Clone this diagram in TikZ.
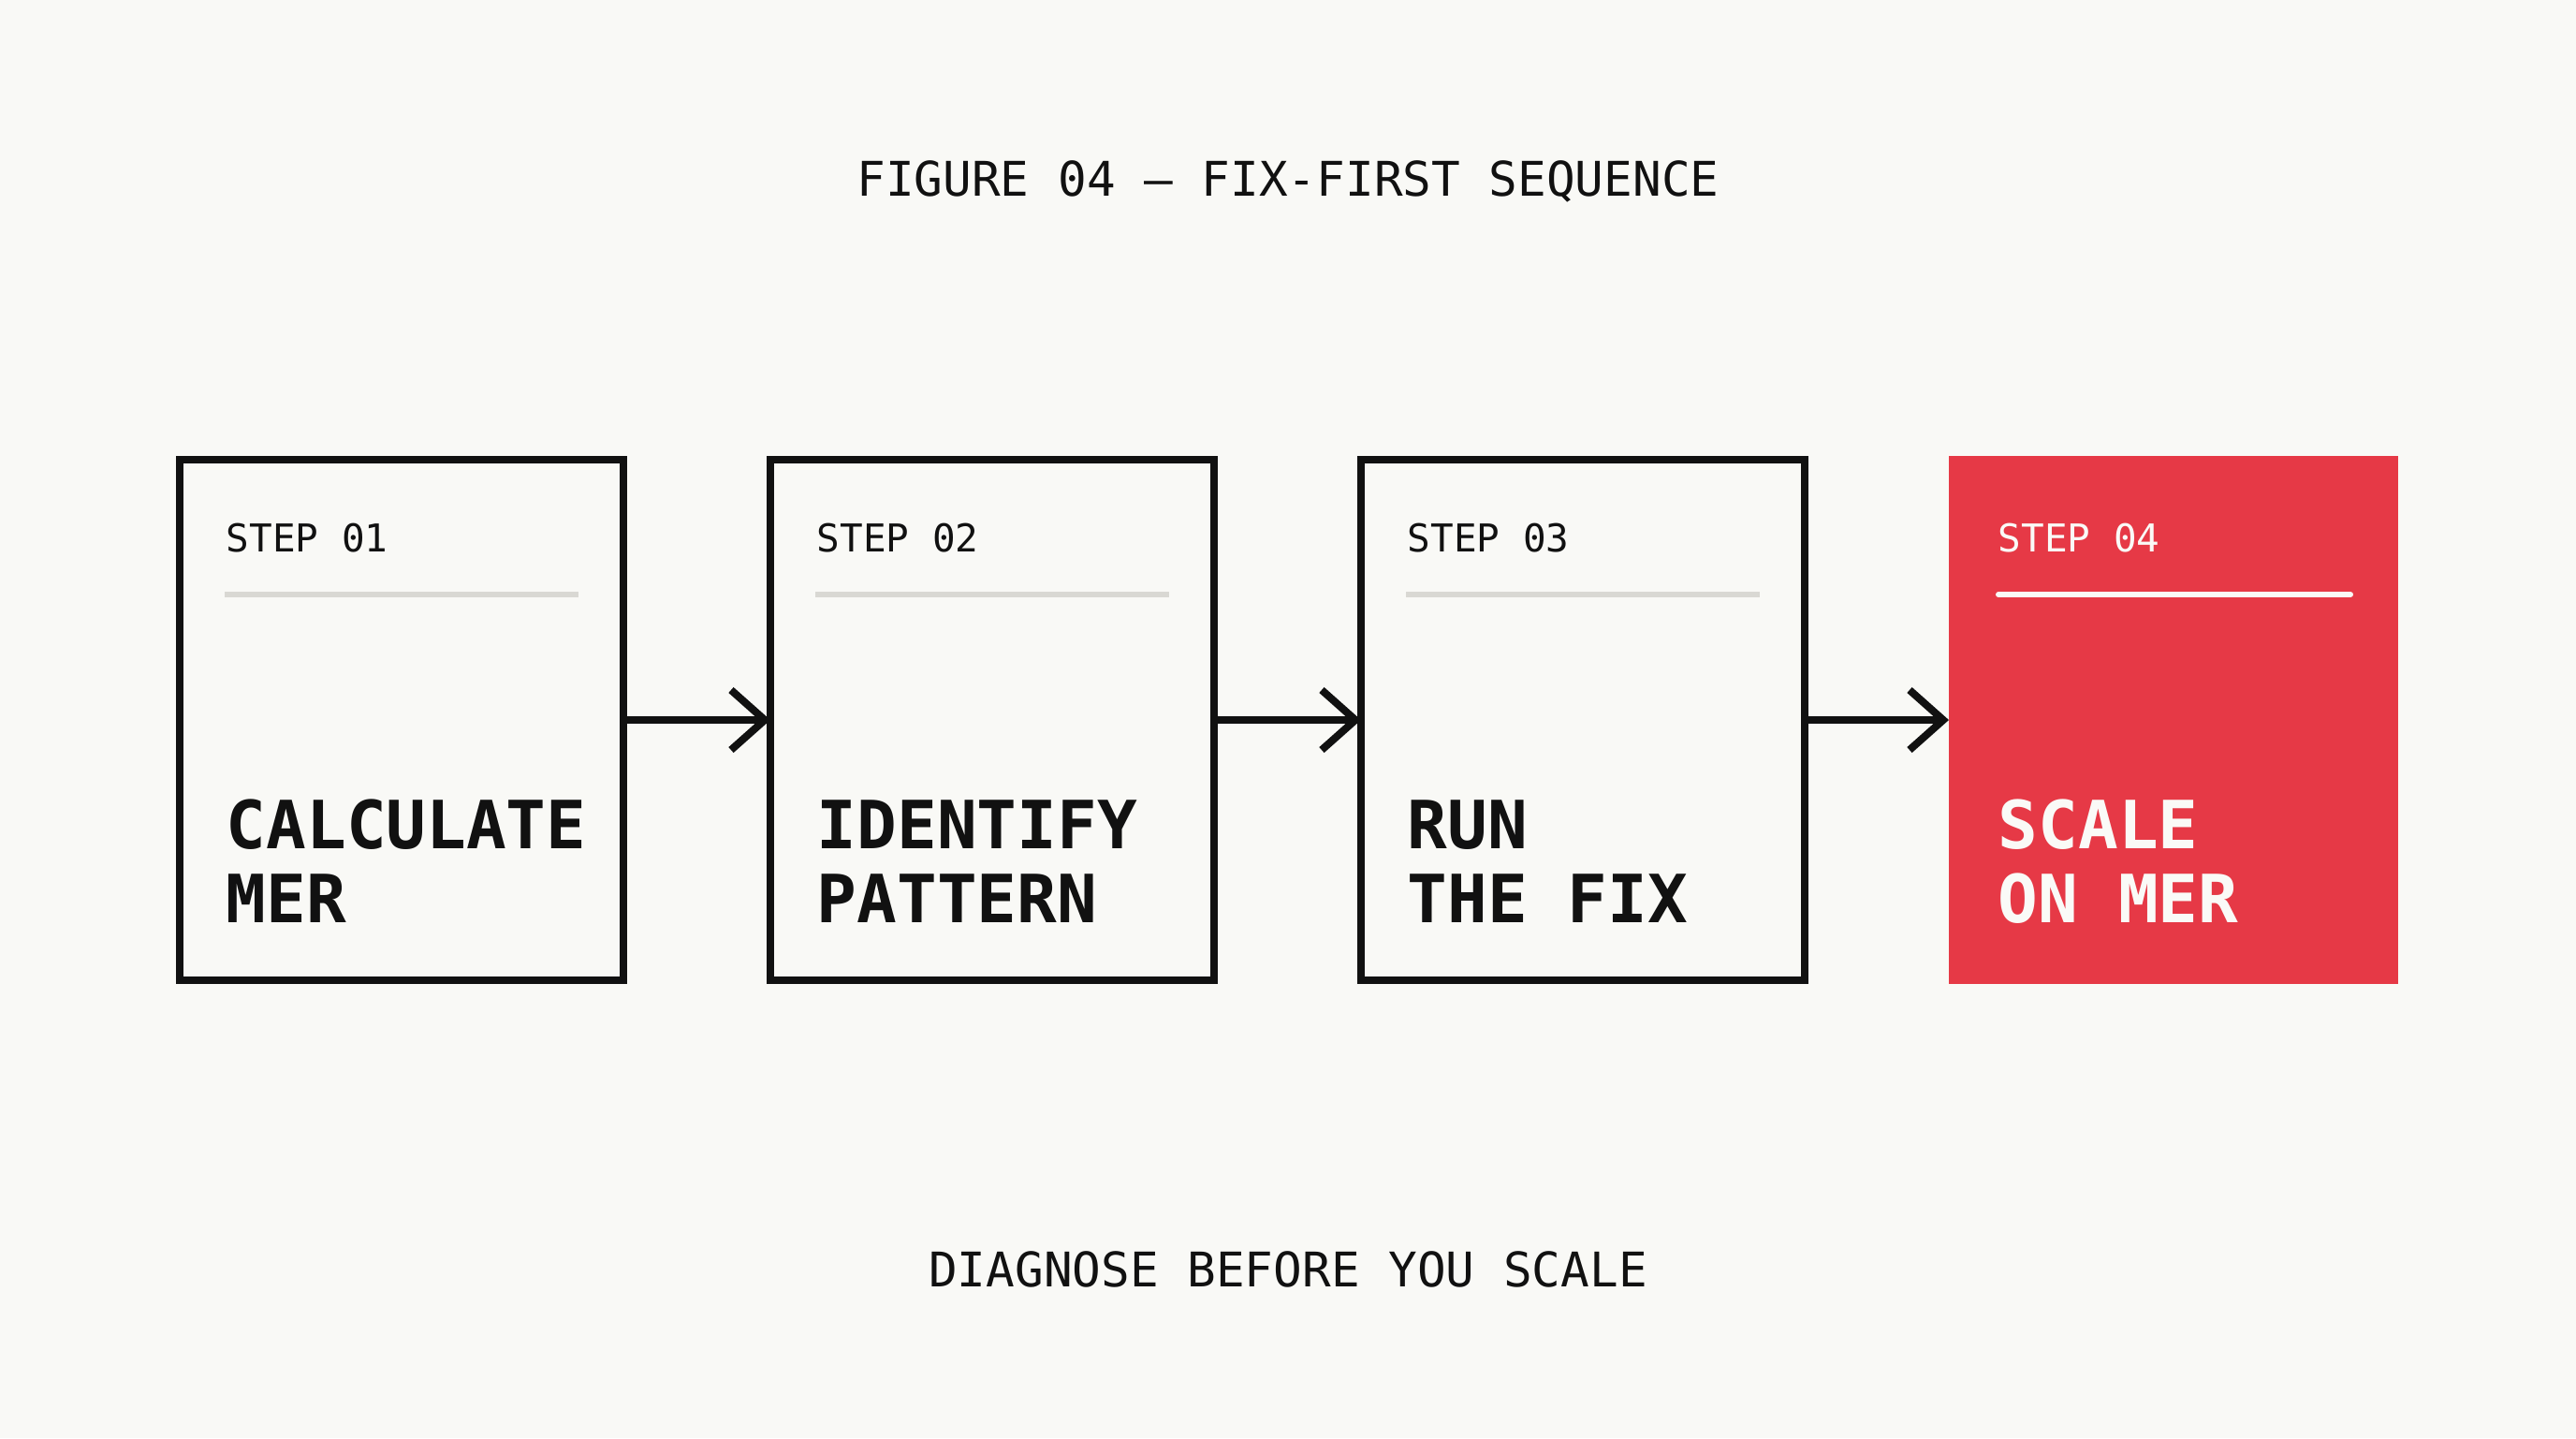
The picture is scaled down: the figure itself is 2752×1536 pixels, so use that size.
\documentclass[tikz,border=0pt]{standalone}
\usepackage{fontspec}
\setmonofont{DejaVu Sans Mono}
\usetikzlibrary{arrows.meta}
\definecolor{bg}{HTML}{F9F9F6}
\definecolor{ink}{HTML}{111111}
\definecolor{rulegrey}{HTML}{D9D8D3}
\definecolor{accent}{HTML}{E63946}
\definecolor{paper}{HTML}{FAFAF7}
\begin{document}
\begin{tikzpicture}[x=0.25pt,y=-0.25pt,
  stepbox/.style={draw=ink, line width=2pt, minimum width=118.5pt, minimum height=139pt, inner sep=0pt, outer sep=0pt, fill=bg},
  redbox/.style={fill=accent, minimum width=120pt, minimum height=141pt, inner sep=0pt, outer sep=0pt},
  steplabel/.style={font=\ttfamily\fontsize{10.25}{12}\selectfont, anchor=base west, inner sep=0pt, text=ink},
  bigtext/.style={font=\ttfamily\bfseries\fontsize{17.75}{19.75}\selectfont, anchor=base west, align=left, inner sep=0pt, text=ink},
  captext/.style={font=\ttfamily\fontsize{12.75}{15}\selectfont, text=ink, anchor=base, inner sep=0pt},
  rulegrey line/.style={draw=rulegrey, line width=1.5pt},
  rulewhite line/.style={draw=paper, line width=1.5pt, line cap=round},
  conn/.style={draw=ink, line width=2pt, -{Straight Barb[length=9pt,width=16pt]}}
]
\fill[bg] (0,0) rectangle (2752,1536);
\useasboundingbox (0,0) rectangle (2752,1536);

\node[captext] (title) at (1376,209) {FIGURE 04 — FIX-FIRST SEQUENCE};

\node[stepbox] (b1) at (429,769) {};
\node[stepbox] (b2) at (1060,769) {};
\node[stepbox] (b3) at (1691,769) {};
\node[redbox]  (b4) at (2322,769) {};

\node[steplabel] (l1) at (241,589.5) {STEP 01};
\node[steplabel] (l2) at (872,589.5) {STEP 02};
\node[steplabel] (l3) at (1503,589.5) {STEP 03};
\node[steplabel, text=paper] (l4) at (2134,589.5) {STEP 04};

\draw[rulegrey line] (240,635) -- (618,635);
\draw[rulegrey line] (871,635) -- (1249,635);
\draw[rulegrey line] (1502,635) -- (1880,635);
\draw[rulewhite line] (2135,635) -- (2511,635);

% base anchor of a two-line node sits on the last line's baseline
\node[bigtext] (t1) at (241,985) {CALCULATE\\MER};
\node[bigtext] (t2) at (872,985) {IDENTIFY\\PATTERN};
\node[bigtext] (t3) at (1503,985) {RUN\\THE FIX};
\node[bigtext, text=paper] (t4) at (2134,985) {SCALE\\ON MER};

\draw[conn] (b1.east) -- (b2.west);
\draw[conn] (b2.east) -- (b3.west);
\draw[conn] (b3.east) -- (b4.west);

\node[captext] (foot) at (1376,1374) {DIAGNOSE BEFORE YOU SCALE};
\end{tikzpicture}
\end{document}
